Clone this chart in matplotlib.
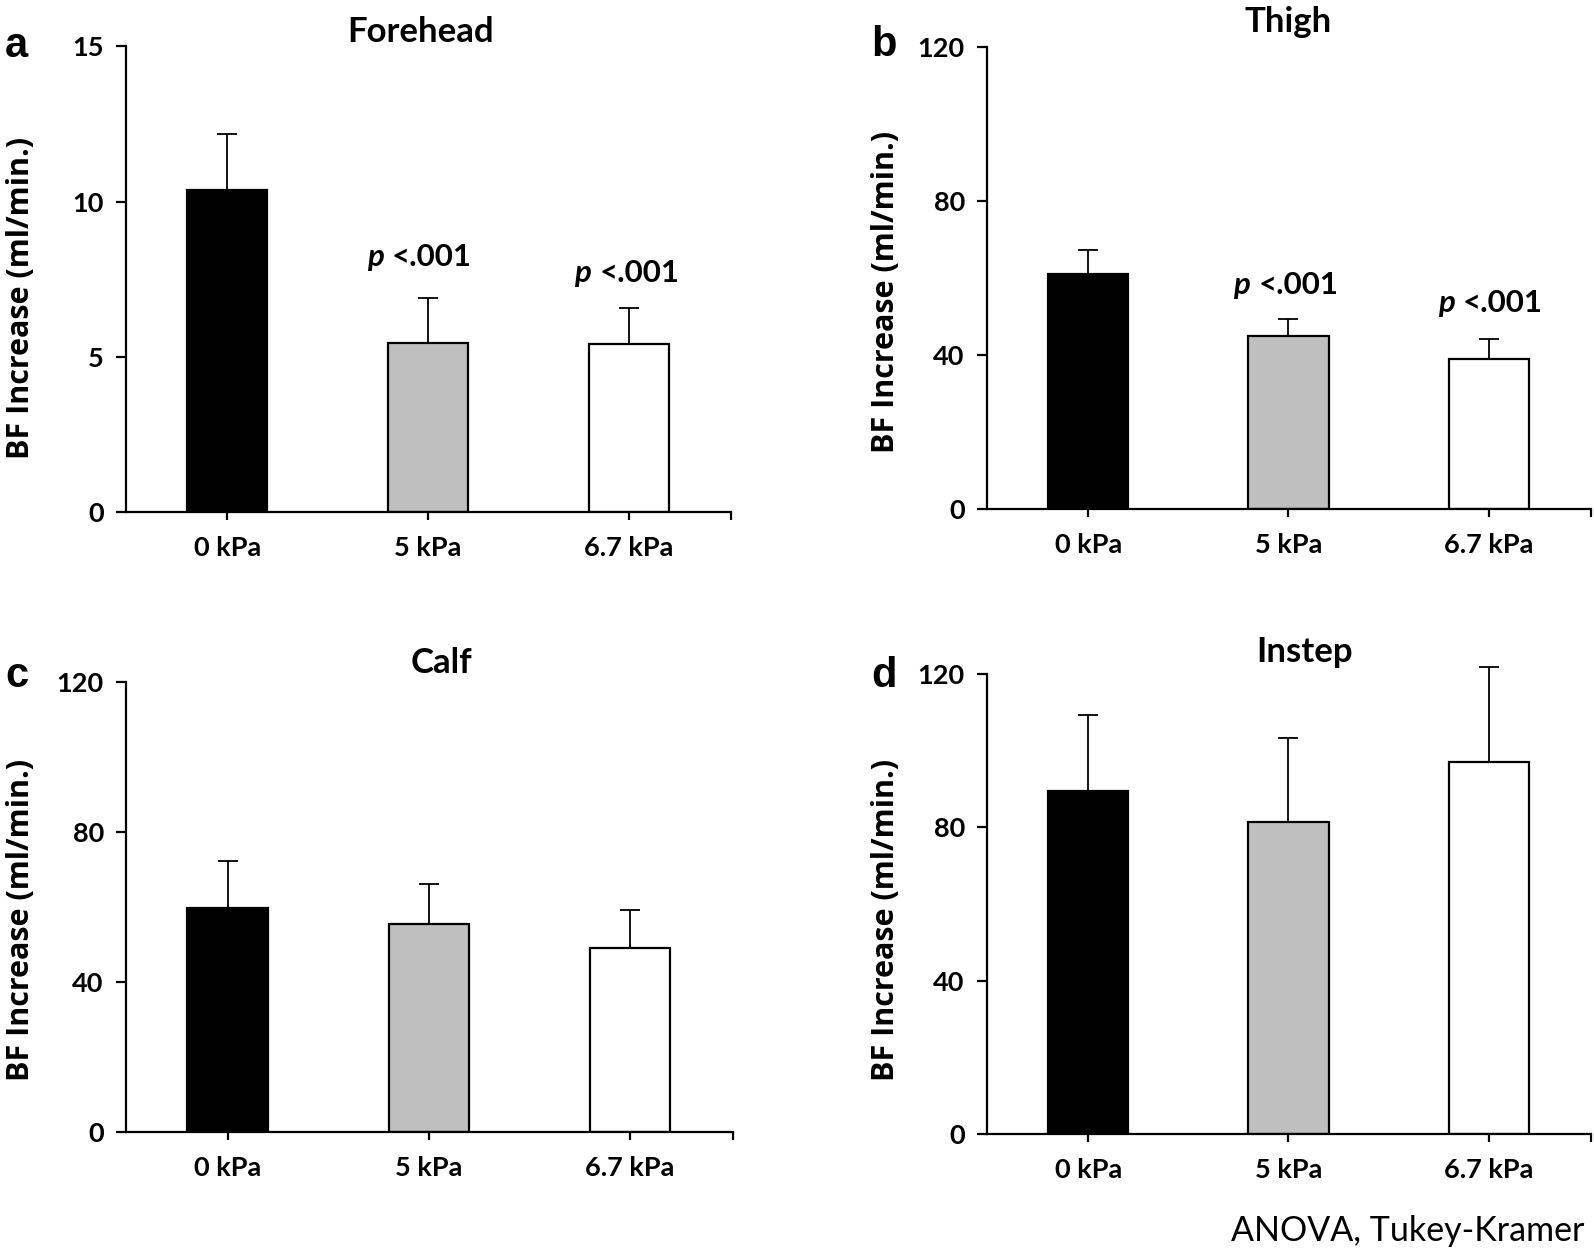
import matplotlib
matplotlib.use("Agg")
import matplotlib.pyplot as plt
import numpy as np

# ---- data ----
categories = ["0 kPa", "5 kPa", "6.7 kPa"]
forehead_mean = [10.37, 5.44, 5.41]
forehead_err = [1.80, 1.46, 1.18]
thigh_mean = [61.0, 45.0, 39.0]
thigh_err = [6.2, 4.5, 5.3]
calf_mean = [59.8, 55.4, 49.0]
calf_err = [12.3, 10.7, 10.2]
instep_mean = [89.6, 81.5, 97.0]
instep_err = [19.6, 21.7, 24.9]
titles = ["Forehead", "Thigh", "Calf", "Instep"]
panel_letters = ["a", "b", "c", "d"]
yticks_sets = [[0, 5, 10, 15], [0, 40, 80, 120], [0, 40, 80, 120], [0, 40, 80, 120]]
p_text = "<.001"
# (category index, y value) for p annotations per panel
p_marks = {0: [(1, 7.93), (2, 7.41)], 1: [(1, 55.9), (2, 51.1)]}

bar_colors = ["#000000", "#bfbfbf", "#ffffff"]

W, H = 1594, 1253
fig = plt.figure(figsize=(W / 100, H / 100), dpi=100)

def fx(px):
    return px / W

def fy(py):
    return 1 - py / H

# axes boxes in pixels: left, top, right, bottom
boxes = [(126, 46.2, 731, 512.4), (987, 47.0, 1591, 509.4),
         (126, 681.8, 732.6, 1131.9), (987, 674.1, 1591, 1133.9)]
means = [forehead_mean, thigh_mean, calf_mean, instep_mean]
errs = [forehead_err, thigh_err, calf_err, instep_err]
title_pos = [(421, 42), (1288, 32), (441, 673), (1305, 662)]
letter_pos = [(5, 57), (871, 56), (5, 687), (871, 687)]
ylabel_pos = [(21, 298), (886, 292), (21, 920), (886, 920)]
p_dx = {0: [-0.2, -0.165], 1: [-0.17, -0.15]}

tick_font = dict(family="Lato", weight="bold", size=19.5)

for i in range(4):
    l, t, r, b = boxes[i]
    ax = fig.add_axes([fx(l), fy(b), fx(r) - fx(l), fy(t) - fy(b)])
    x = np.arange(len(categories))
    m = np.array(means[i])
    e = np.array(errs[i])
    ax.errorbar(x, m, yerr=[np.zeros_like(e), e], fmt="none", ecolor="black",
                elinewidth=1.3, capsize=7, capthick=1.3, zorder=1, clip_on=False)
    ax.bar(x, m, width=0.4, color=bar_colors, edgecolor="black", linewidth=1.6, zorder=2)
    xmin, xmax = -0.505, 2.51
    ax.set_xlim(xmin, xmax)
    yt = yticks_sets[i]
    ax.set_ylim(yt[0], yt[-1])
    ax.set_yticks(yt)
    ax.set_yticklabels([str(v) for v in yt], fontdict=tick_font)
    ax.set_xticks(list(x) + [xmax])
    ax.set_xticklabels(categories + [""], fontdict=tick_font)
    for s in ["top", "right"]:
        ax.spines[s].set_visible(False)
    for s in ["left", "bottom"]:
        ax.spines[s].set_linewidth(1.6)
    ax.tick_params(axis="y", direction="out", length=7, width=1.6, pad=9)
    ax.tick_params(axis="x", direction="out", length=6, width=1.6, pad=11)

    if i in p_marks:
        for k, (ci, yv) in enumerate(p_marks[i]):
            xg = ci + p_dx[i][k]
            ax.annotate("p", (xg, yv), xytext=(-3, 0), textcoords="offset points",
                        ha="right", va="baseline", family="Lato", weight="bold",
                        style="italic", size=22.5)
            ax.annotate(p_text, (xg, yv), xytext=(3, 0), textcoords="offset points",
                        ha="left", va="baseline", family="Lato", weight="bold", size=22.5)

    tx, ty = title_pos[i]
    fig.text(fx(tx), fy(ty), titles[i], ha="center", va="baseline",
             family="Lato", weight="bold", size=25)
    lx, ly = letter_pos[i]
    fig.text(fx(lx), fy(ly), panel_letters[i], ha="left", va="baseline",
             family="Liberation Sans", weight="bold", size=30)
    yx, yy = ylabel_pos[i]
    fig.text(fx(yx), fy(yy), "BF Increase (ml/min.)", rotation=90, ha="center",
             va="center", family="Open Sans", weight="bold", size=22)

fig.text(fx(1584), fy(1241), "ANOVA, Tukey-Kramer", ha="right", va="baseline",
         family="Lato", size=24.5)

fig.savefig("out.png", dpi=100)
